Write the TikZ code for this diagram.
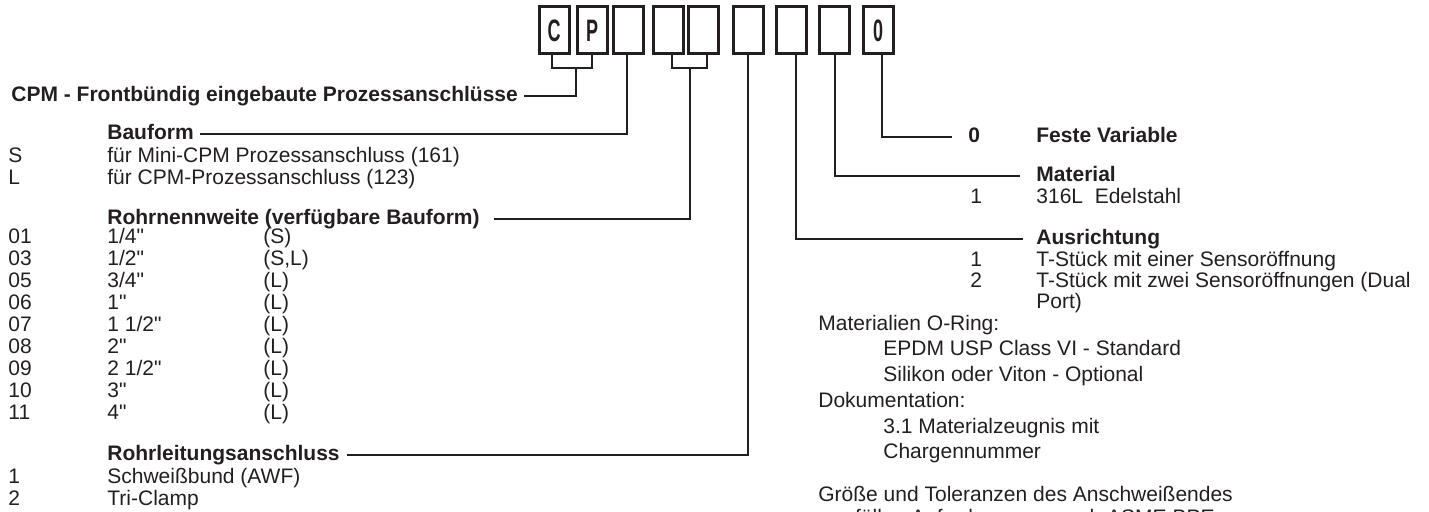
\documentclass[tikz,border=0pt]{standalone}
\usepackage{fontspec}
\setmainfont{Liberation Sans}[Ligatures=TeXOff]
\usepackage{graphicx}
\usetikzlibrary{calc}
\definecolor{ink}{RGB}{35,31,32}
\begin{document}
\begin{tikzpicture}[x=0.5pt,y=-0.5pt,
  font=\fontsize{10.5}{12}\selectfont,
  digbox/.style={draw=ink, line width=1.5pt, minimum width=15pt, minimum height=23.5pt, inner sep=0pt, text=ink, font=\fontsize{15.5}{16}\selectfont\bfseries},
  conn/.style={draw=ink, line width=1pt},
  lbl/.style={anchor=west, inner sep=0pt, text height=8pt, text depth=2pt, text=ink},
  hdr/.style={lbl, font=\fontsize{10.5}{12}\selectfont\bfseries}]
\path[use as bounding box] (0,0) rectangle (1429,512);
\clip (0,0) rectangle (1429,512);

% code boxes
\node[digbox] (b1) at (554,30.5) {\scalebox{0.58}[1]{C}};
\node[digbox] (b2) at (592,30.5) {\scalebox{0.58}[1]{P}};
\node[digbox] (b3) at (628,30.5) {};
\node[digbox] (b4) at (668,30.5) {};
\node[digbox] (b5) at (703,30.5) {};
\node[digbox] (b6) at (748,30.5) {};
\node[digbox] (b7) at (791,30.5) {};
\node[digbox] (b8) at (834,30.5) {};
\node[digbox] (b9) at (878,30.5) {\scalebox{0.58}[1]{0}};

% left labels
\node[hdr] (title) at (11,96) {CPM - Frontbündig eingebaute Prozessanschlüsse};

\node[hdr] (bauform) at (107,134) {Bauform};
\node[lbl] (cS) at (8,157) {S};
\node[lbl] (dS) at (107,157) {für Mini-CPM Prozessanschluss (161)};
\node[lbl] (cL) at (8,179) {L};
\node[lbl] (dL) at (107,179) {für CPM-Prozessanschluss (123)};

\node[hdr] (rohrnw) at (107,219) {Rohrnennweite (verfügbare Bauform)};
\foreach \c/\s/\a [count=\i from 0] in {01/{1/4"}/(S), 03/{1/2"}/{(S,L)}, 05/{3/4"}/(L), 06/{1"}/(L), 07/{1 1/2"}/(L), 08/{2"}/(L), 09/{2 1/2"}/(L), 10/{3"}/(L), 11/{4"}/(L)}{
  \node[lbl] (rc\i) at (8,238+21.9*\i) {\c};
  \node[lbl] (rs\i) at (107,238+21.9*\i) {\s};
  \node[lbl] (ra\i) at (263,238+21.9*\i) {\a};
}

\node[hdr] (rohrl) at (107,455) {Rohrleitungsanschluss};
\node[lbl] (p1c) at (8,478) {1};
\node[lbl] (p1d) at (107,478) {Schweißbund (AWF)};
\node[lbl] (p2c) at (8,500) {2};
\node[lbl] (p2d) at (107,500) {Tri-Clamp};

% right labels
\node[hdr] (fv0) at (968,137) {0};
\node[hdr] (fvt) at (1036,137) {Feste Variable};
\node[hdr] (mat) at (1036,176) {Material};
\node[lbl] (m1c) at (970,198) {1};
\node[lbl] (m1d) at (1036,198) {316L\ \ Edelstahl};
\node[hdr] (ausr) at (1036,239) {Ausrichtung};
\node[lbl] (a1c) at (970,261) {1};
\node[lbl] (a1d) at (1036,261) {T-Stück mit einer Sensoröffnung};
\node[lbl] (a2c) at (970,282) {2};
\node[lbl] (a2d) at (1036,282) {T-Stück mit zwei Sensoröffnungen (Dual};
\node[lbl] (a2e) at (1036,303) {Port)};
\node[lbl] (oring) at (818,325) {Materialien O-Ring:};
\node[lbl] (or1) at (883,350) {EPDM USP Class VI - Standard};
\node[lbl] (or2) at (883,376) {Silikon oder Viton - Optional};
\node[lbl] (doku) at (818,402) {Dokumentation:};
\node[lbl] (dk1) at (883,428) {3.1 Materialzeugnis mit};
\node[lbl] (dk2) at (883,453) {Chargennummer};
\node[lbl] (gr1) at (818,496) {Größe und Toleranzen des Anschweißendes};
\node[lbl] (gr2) at (836,519) {erfüllen Anforderungen nach ASME BPE};

% connectors
\coordinate (cpj) at (576,68);
\draw[conn] ([xshift=-1pt]b1.south) |- (cpj) -| (b2.south);
\draw[conn] (cpj) |- ([xshift=3pt]title.east);

\draw[conn] ([xshift=-0.5pt]b3.south) |- ([xshift=3pt]bauform.east);

\coordinate (rj) at (690,68);
\draw[conn] ([xshift=2pt]b4.south) |- (rj) -| ([xshift=2pt]b5.south);
\draw[conn] (rj) |- ([xshift=7pt]rohrnw.east);

\draw[conn] (b6.south) |- ([xshift=3.5pt]rohrl.east);

\draw[conn] ([xshift=2.5pt]b7.south) |- ([xshift=-6.5pt]ausr.west);
\draw[conn] ([xshift=0.5pt]b8.south) |- ([xshift=-8pt]mat.west);
\draw[conn] ([xshift=2pt]b9.south) |- ([xshift=-8pt]fv0.west);
\end{tikzpicture}
\end{document}
